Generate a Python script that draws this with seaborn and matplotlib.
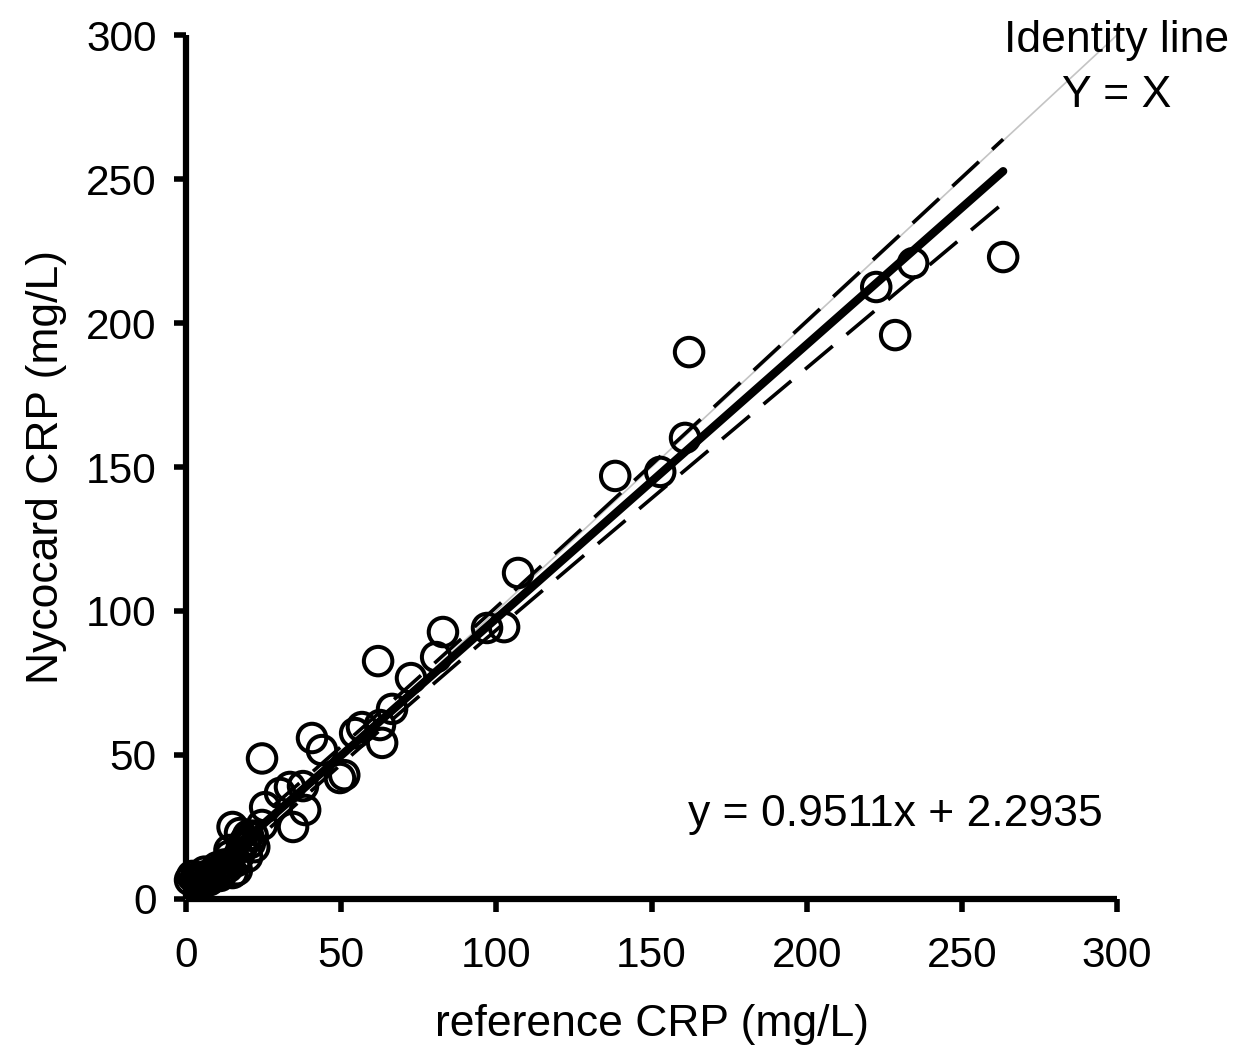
import numpy as np
import pandas as pd
import seaborn as sns
import matplotlib.pyplot as plt

# values (mg/L)
reference_crp = [
    263.3, 234.3, 222.4, 228.5, 162.1, 160.8, 152.8, 138.3, 107.0, 102.5,
    97.0, 82.8, 80.6, 72.5, 66.4, 61.9, 63.2, 62.5, 56.7, 54.5,
    40.6, 43.8, 49.6, 51.0, 24.5, 37.7, 33.5, 30.3, 38.4, 34.5,
    25.5, 24.5, 15.0, 17.4, 20.6, 19.7, 16.4, 11.0, 5.5, 1.3,
    3.0, 7.5, 9.0, 12.5, 14.0, 18.0, 21.5, 6.0, 4.0, 10.0,
    2.0, 3.5, 5.0, 6.5, 8.0, 9.5, 11.0, 12.0, 13.5, 15.0,
    16.0, 14.0, 17.0, 19.0, 22.0, 20.0,
]
nycocard_crp = [
    222.9, 220.8, 212.5, 195.8, 189.9, 160.1, 148.3, 146.9, 113.2, 94.4,
    94.1, 92.7, 84.0, 76.7, 66.0, 82.6, 54.2, 60.4, 59.7, 57.6,
    55.9, 51.7, 42.0, 43.0, 48.8, 39.2, 38.9, 36.8, 30.9, 25.0,
    31.9, 25.7, 25.0, 22.9, 19.4, 14.6, 10.0, 9.0, 7.6, 6.6,
    7.0, 6.5, 8.5, 12.0, 15.0, 18.0, 22.0, 9.5, 5.5, 11.0,
    8.0, 7.0, 6.0, 8.0, 7.0, 9.0, 8.0, 10.0, 11.0, 9.0,
    13.0, 17.0, 15.0, 20.0, 18.0, 22.0,
]
slope = 0.9511
intercept = 2.2935
axis_ticks = [0, 50, 100, 150, 200, 250, 300]

df = pd.DataFrame({"reference": reference_crp, "nycocard": nycocard_crp})

# regression line and 99% confidence band of the mean
x = df["reference"].to_numpy()
y = df["nycocard"].to_numpy()
n = len(x)
x_fit = np.linspace(x.min(), x.max(), 200)
y_fit = intercept + slope * x_fit
resid = y - (intercept + slope * x)
s = np.sqrt(np.sum(resid ** 2) / (n - 2))
sxx = np.sum((x - x.mean()) ** 2)
band = 2.75 * s * np.sqrt(1 / n + (x_fit - x.mean()) ** 2 / sxx)

sns.set_theme(style="ticks")
plt.rcParams["font.family"] = ["Liberation Sans", "DejaVu Sans"]
plt.rcParams["text.color"] = "black"
plt.rcParams["axes.labelcolor"] = "black"

fig = plt.figure(figsize=(12.35, 10.58), dpi=100)
ax = fig.add_axes([0.1506, 0.1503, 0.7539, 0.8166])

lim = axis_ticks[-1]
sns.lineplot(x=[axis_ticks[0], lim], y=[axis_ticks[0], lim], color="#c4c4c4",
             linewidth=1.2, ax=ax, clip_on=False)
for sign in (1, -1):
    sns.lineplot(x=x_fit, y=y_fit + sign * band, color="black", linewidth=2.6,
                 dashes=(10, 5), ax=ax)
sns.lineplot(x=x_fit, y=y_fit, color="black", linewidth=6, ax=ax,
             solid_capstyle="round")
sns.scatterplot(data=df, x="reference", y="nycocard", marker="o", s=420,
                facecolor="none", edgecolor="black", linewidth=2.9,
                clip_on=False, ax=ax, zorder=3)

ax.set_xlim(0, lim)
ax.set_ylim(0, lim)
ax.set_xticks(axis_ticks)
ax.set_yticks(axis_ticks)
sns.despine(ax=ax)
for side in ("left", "bottom"):
    ax.spines[side].set_linewidth(4.5)
    ax.spines[side].set_color("black")
    ax.spines[side].set_capstyle("butt")
ax.tick_params(axis="both", labelsize=30.5, length=9, width=4, color="black",
               labelcolor="black")
ax.tick_params(axis="x", pad=18)
ax.tick_params(axis="y", pad=12)

ax.set_xlabel("reference CRP (mg/L)", fontsize=32, labelpad=20)
ax.set_ylabel("Nycocard CRP (mg/L)", fontsize=32, labelpad=14)

ax.text(lim, 294, "Identity line", fontsize=32, ha="center", va="baseline")
ax.text(lim, 275, "Y = X", fontsize=32, ha="center", va="baseline")
ax.text(228.5, 25.3, "y = 0.9511x + 2.2935", fontsize=32, ha="center",
        va="baseline")

fig.savefig("out.png", dpi=100)
